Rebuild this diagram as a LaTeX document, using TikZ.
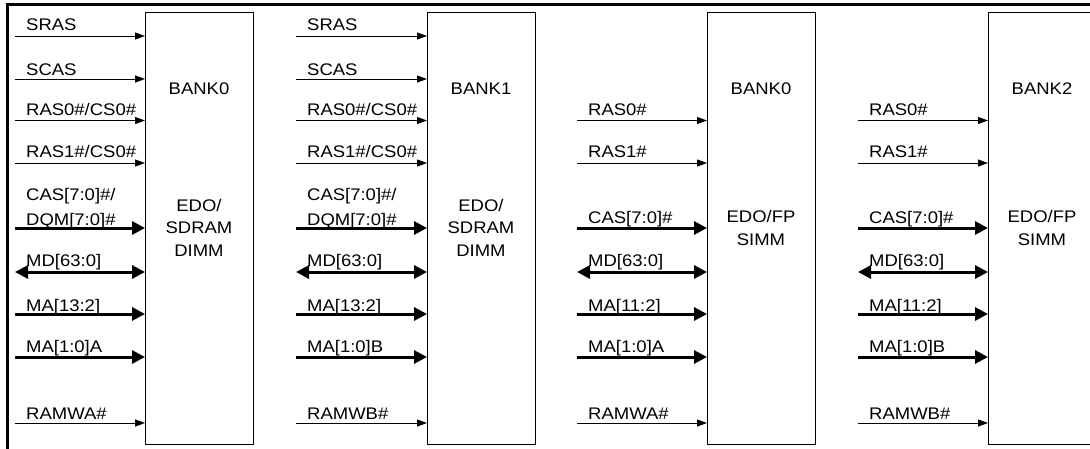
\documentclass[tikz,border=0pt]{standalone}
\usepackage{fontspec}
\setmainfont[FakeStretch=1.1]{Liberation Sans}
\usetikzlibrary{arrows.meta}
\newcommand\mysig[7]{%
  \coordinate (s-#1) at (#3,#4);
  \draw[#6] (s-#1) -- (s-#1 -| #2.west);
  \node[lbl] (l-#1) at (#3+11,#5) {#7};}
\newcommand\mylbl[4]{\node[lbl] (l-#1) at (#2+11,#3) {#4};}
\begin{document}
\begin{tikzpicture}[x=1pt,y=-1pt,
  bankbox/.style={draw=black, line width=1pt, outer sep=0pt, inner sep=0pt,
    minimum width=108pt, minimum height=432pt, anchor=north west},
  thinsig/.style={line width=1pt, -{Triangle[length=10pt,width=7pt]}},
  thicksig/.style={line width=3pt, -{Triangle[length=13pt,width=13pt]}},
  bisig/.style={line width=3pt, {Triangle[length=13pt,width=13pt]}-{Triangle[length=13pt,width=13pt]}},
  lbl/.style={anchor=base west, inner sep=0pt, font=\fontsize{16.8}{20}\selectfont},
  btxt/.style={align=center, inner sep=0pt, font=\fontsize{16.8}{22.5}\selectfont}
]
\clip (0,0) rectangle (1090,448);
\useasboundingbox (0,0) rectangle (1090,448);
% outer frame
\draw[line width=2.6pt] (7.3,449) -- (7.3,4.6) -- (1091,4.6);
% boxes
\node[bankbox] (b1) at (145,12) {};
\node[bankbox] (b2) at (427,12) {};
\node[bankbox] (b3) at (707,12) {};
\node[bankbox] (b4) at (988,12) {};
% box texts
\coordinate (rbank) at (0,88.3);
\coordinate (rdimm) at (0,227.5);
\coordinate (rsimm) at (0,228);
\node[btxt] (n1) at (b1 |- rbank) {BANK0};
\node[btxt] (n2) at (b2 |- rbank) {BANK1};
\node[btxt] (n3) at (b3 |- rbank) {BANK0};
\node[btxt] (n4) at (b4 |- rbank) {BANK2};
\node[btxt] (d1) at (b1 |- rdimm) {EDO/\\SDRAM\\DIMM};
\node[btxt] (d2) at (b2 |- rdimm) {EDO/\\SDRAM\\DIMM};
\node[btxt] (d3) at (b3 |- rsimm) {EDO/FP\\SIMM};
\node[btxt] (d4) at (b4 |- rsimm) {EDO/FP\\SIMM};
% column 1
\mysig{a1}{b1}{15}{36}{30}{thinsig}{SRAS}
\mysig{a2}{b1}{15}{79}{75}{thinsig}{SCAS}
\mysig{a3}{b1}{15}{120.5}{115}{thinsig}{RAS0\#/CS0\#}
\mysig{a4}{b1}{15}{163}{157.5}{thinsig}{RAS1\#/CS0\#}
\mysig{a5}{b1}{15}{228}{225}{thicksig}{DQM[7:0]\#}
\mylbl{a5b}{15}{200.7}{CAS[7:0]\#/}
\mysig{a6}{b1}{15}{272}{266}{bisig}{MD[63:0]}
\mysig{a7}{b1}{15}{314}{311.5}{thicksig}{MA[13:2]}
\mysig{a8}{b1}{15}{357}{352.7}{thicksig}{MA[1:0]A}
\mysig{a9}{b1}{15}{423}{419.5}{thinsig}{RAMWA\#}
% column 2
\mysig{b1}{b2}{296}{36}{30}{thinsig}{SRAS}
\mysig{b2}{b2}{296}{79}{75}{thinsig}{SCAS}
\mysig{b3}{b2}{296}{120.5}{115}{thinsig}{RAS0\#/CS0\#}
\mysig{b4}{b2}{296}{163}{157.5}{thinsig}{RAS1\#/CS0\#}
\mysig{b5}{b2}{296}{228}{225}{thicksig}{DQM[7:0]\#}
\mylbl{b5b}{296}{200.7}{CAS[7:0]\#/}
\mysig{b6}{b2}{296}{272}{266}{bisig}{MD[63:0]}
\mysig{b7}{b2}{296}{314}{311.5}{thicksig}{MA[13:2]}
\mysig{b8}{b2}{296}{357}{352.7}{thicksig}{MA[1:0]B}
\mysig{b9}{b2}{296}{423}{419.5}{thinsig}{RAMWB\#}
% column 3
\mysig{c3}{b3}{577}{120.5}{115}{thinsig}{RAS0\#}
\mysig{c4}{b3}{577}{163}{157.5}{thinsig}{RAS1\#}
\mysig{c5}{b3}{577}{228}{223}{thicksig}{CAS[7:0]\#}
\mysig{c6}{b3}{577}{272}{266}{bisig}{MD[63:0]}
\mysig{c7}{b3}{577}{314}{311.5}{thicksig}{MA[11:2]}
\mysig{c8}{b3}{577}{357}{352.7}{thicksig}{MA[1:0]A}
\mysig{c9}{b3}{577}{423}{419.5}{thinsig}{RAMWA\#}
% column 4
\mysig{d3}{b4}{858}{120.5}{115}{thinsig}{RAS0\#}
\mysig{d4}{b4}{858}{163}{157.5}{thinsig}{RAS1\#}
\mysig{d5}{b4}{858}{228}{223}{thicksig}{CAS[7:0]\#}
\mysig{d6}{b4}{858}{272}{266}{bisig}{MD[63:0]}
\mysig{d7}{b4}{858}{314}{311.5}{thicksig}{MA[11:2]}
\mysig{d8}{b4}{858}{357}{352.7}{thicksig}{MA[1:0]B}
\mysig{d9}{b4}{858}{423}{419.5}{thinsig}{RAMWB\#}
\end{tikzpicture}
\end{document}
